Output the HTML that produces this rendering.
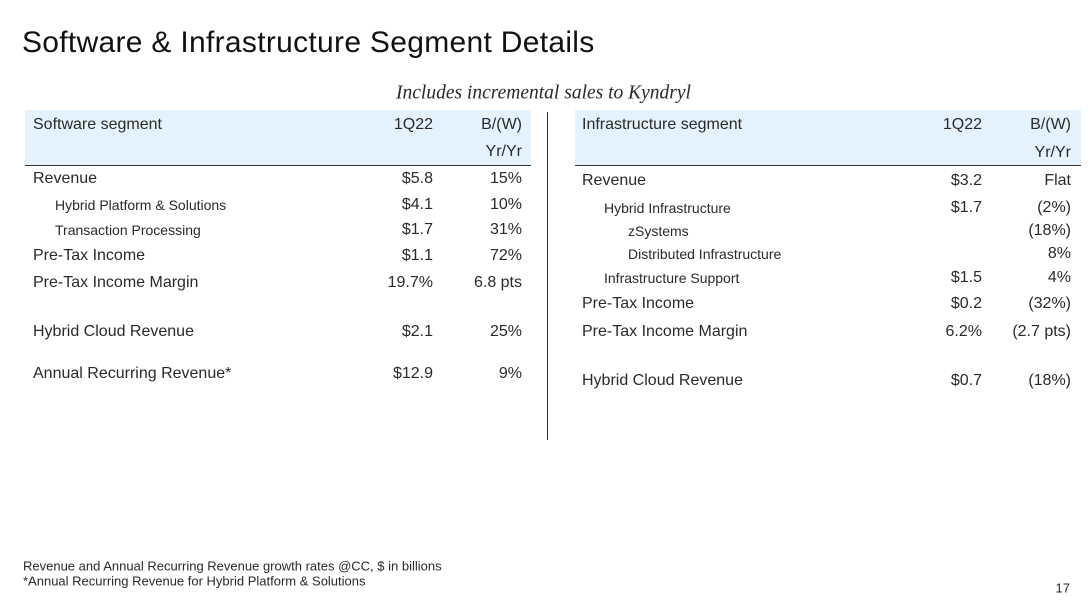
<!DOCTYPE html>
<html><head><meta charset="utf-8"><style>
body{margin:0;width:1091px;height:611px;background:#fff;font-family:"Liberation Sans",sans-serif;color:#2a2a2a;position:relative;overflow:hidden}
.t{position:absolute;white-space:nowrap;line-height:1;transform:translateY(-50%)}
.r{text-align:right;transform:translate(-100%,-50%)}
.m{font-size:16px}.s{font-size:14px}
.hdr{position:absolute;background:#e3f2fc;border-bottom:1.5px solid #333}
</style></head><body>
<div class="t" style="left:22px;top:43px;font-size:30px;color:#111;letter-spacing:0.3px">Software &amp; Infrastructure Segment Details</div>
<div class="t" style="left:396px;top:93px;font-size:19.5px;font-style:italic;font-family:'Liberation Serif',serif">Includes incremental sales to Kyndryl</div>
<div class="hdr" style="left:25px;top:110px;width:506px;height:55px"></div>
<div class="hdr" style="left:575px;top:110px;width:506px;height:55px"></div>
<div style="position:absolute;left:547px;top:112px;width:1px;height:328px;background:#333"></div>
<div id="rows"></div>
<div class="t" style="left:23px;top:566px;font-size:13px">Revenue and Annual Recurring Revenue growth rates @CC, $ in billions</div>
<div class="t" style="left:23px;top:581px;font-size:13px">*Annual Recurring Revenue for Hybrid Platform &amp; Solutions</div>
<div class="t r" style="left:1070px;top:588px;font-size:13px">17</div>
<script>
const leftRows=[["Software segment","1Q22","B/(W)",125,33,"m"],["","","Yr/Yr",152,33,"m"],["Revenue","$5.8","15%",179,33,"m"],["Hybrid Platform & Solutions","$4.1","10%",205,55,"s"],["Transaction Processing","$1.7","31%",230,55,"s"],["Pre-Tax Income","$1.1","72%",256,33,"m"],["Pre-Tax Income Margin","19.7%","6.8 pts",283,33,"m"],["Hybrid Cloud Revenue","$2.1","25%",332,33,"m"],["Annual Recurring Revenue*","$12.9","9%",374,33,"m"]];
const rightRows=[["Infrastructure segment","1Q22","B/(W)",125,582,"m"],["","","Yr/Yr",153,582,"m"],["Revenue","$3.2","Flat",181,582,"m"],["Hybrid Infrastructure","$1.7","(2%)",208,604,"s"],["zSystems","","(18%)",231,628,"s"],["Distributed Infrastructure","","8%",254,628,"s"],["Infrastructure Support","$1.5","4%",278,604,"s"],["Pre-Tax Income","$0.2","(32%)",304,582,"m"],["Pre-Tax Income Margin","6.2%","(2.7 pts)",332,582,"m"],["Hybrid Cloud Revenue","$0.7","(18%)",381,582,"m"]];
const host=document.getElementById('rows');
function mk(txt,x,y,cls,name){if(!txt)return;const d=document.createElement('div');d.className='t '+cls;d.style.left=x+'px';d.style.top=y+'px';d.textContent=txt;


host.appendChild(d);}
function draw(rows,c1,c2,p){rows.forEach((r,i)=>{
mk(r[0],r[4],r[3],r[5],p+'-label-'+i);mk(r[1],c1,r[3],'r m',p+'-value-'+i);mk(r[2],c2,r[3],'r m',p+'-change-'+i);});}
draw(leftRows,433,522,'software');draw(rightRows,982,1071,'infrastructure');
</script>
</body></html>
